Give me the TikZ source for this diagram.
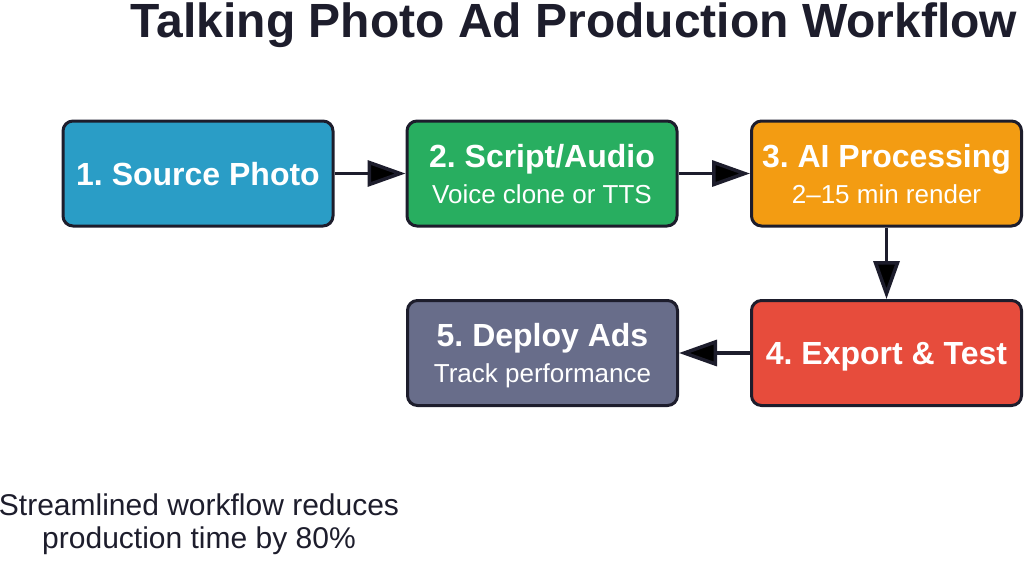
\documentclass[tikz,border=0pt]{standalone}
\usepackage{fontspec}
\setmainfont{Liberation Sans}
\usetikzlibrary{positioning,arrows.meta}
\frenchspacing
\definecolor{ink}{HTML}{1D1D2C}
\definecolor{photoblue}{HTML}{2A9DC6}
\definecolor{audiogreen}{HTML}{28AE60}
\definecolor{aiorange}{HTML}{F39C12}
\definecolor{exportred}{HTML}{E74C3C}
\definecolor{deploygray}{HTML}{686D8A}
\newcommand{\stagehead}[1]{{\fontsize{32}{36}\selectfont\bfseries #1}}

\begin{document}
\begin{tikzpicture}[x=1pt,y=1pt,node distance=344pt,on grid,
	stage/.style={draw=ink,line width=3pt,rounded corners=10pt,
		minimum width=270pt,minimum height=105pt,text=white,
		align=center,text depth=0pt,font=\fontsize{26}{36}\selectfont},
	flow/.style={draw=ink,line width=3.5pt,-{Triangle[length=38pt,width=26pt]}}]
	\useasboundingbox (0,0) rectangle (1024,-560);
	\node[anchor=base,text=ink,font=\fontsize{48}{50}\selectfont\bfseries] (title) at (574,-37) {Talking Photo Ad Production Workflow};
	\node[stage,fill=photoblue] (q1) at (198,-173.5) {\stagehead{1. Source Photo}};
	\node[stage,fill=audiogreen] (q2) [right=of q1] {\stagehead{2. Script/Audio}\\Voice clone or TTS};
	\node[stage,fill=aiorange] (q3) [right=344.5pt of q2] {\stagehead{3. AI Processing}\\2--15 min render};
	\node[stage,fill=exportred] (q4) [below=179.5pt of q3] {\stagehead{4. Export \& Test}};
	\node[stage,fill=deploygray] (q5) [left=of q4] {\stagehead{5. Deploy Ads}\\Track performance};
	\node[anchor=north,inner sep=0pt,align=center,text=ink,font=\fontsize{30}{33}\selectfont] (note) at (199,-494) {Streamlined workflow reduces\\production time by 80\%};
	\path[flow]
	(q1) edge (q2)
	(q2) edge (q3)
	(q3) edge (q4)
	(q4) edge (q5)
	;
\end{tikzpicture}
\end{document}
